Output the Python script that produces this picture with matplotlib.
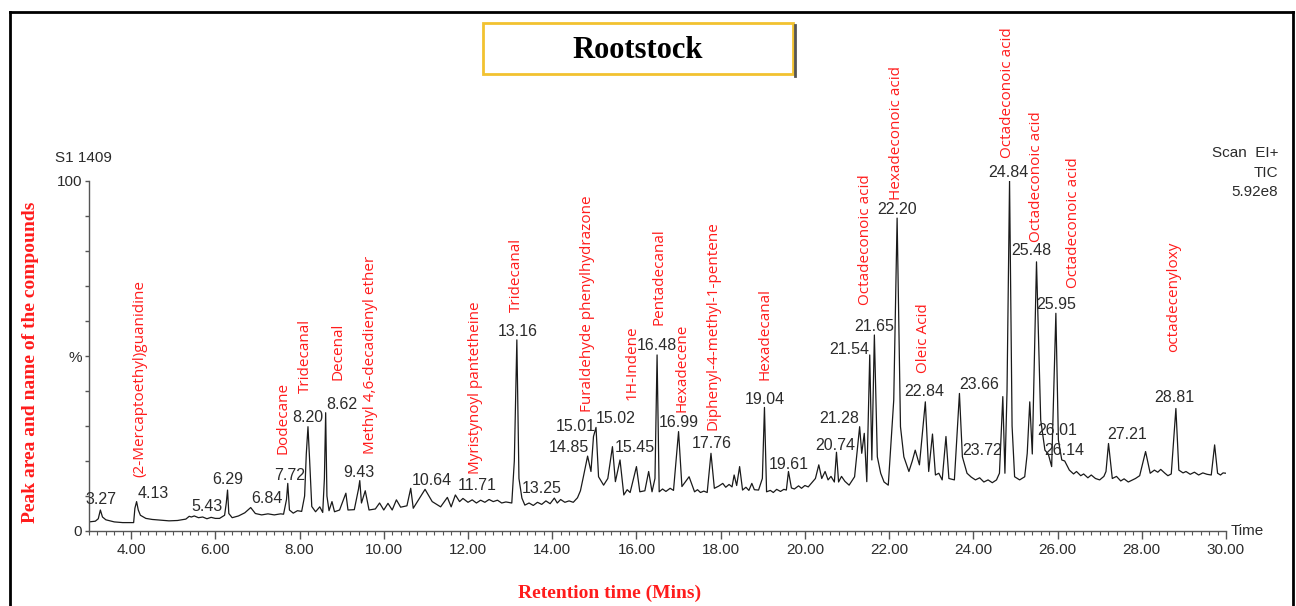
import matplotlib.pyplot as plt
from matplotlib.patches import Rectangle
from matplotlib.lines import Line2D
from matplotlib.ticker import MultipleLocator, FixedLocator, FixedFormatter

# ---- chromatogram trace: (retention time min, relative intensity %) ----
TRACE = [
    (3.00, 2.6), (3.15, 2.8), (3.22, 3.5), (3.27, 6.0), (3.32, 4.0), (3.40, 3.2),
    (3.60, 2.6), (3.80, 2.4), (4.06, 2.4), (4.09, 6.5), (4.13, 8.4), (4.17, 6.0),
    (4.22, 4.5), (4.35, 3.6), (4.50, 3.3), (4.70, 3.1), (4.90, 2.9), (5.10, 3.0),
    (5.30, 3.4), (5.38, 4.2), (5.43, 4.0), (5.50, 4.3), (5.60, 3.8), (5.70, 4.0),
    (5.80, 3.5), (5.90, 3.9), (6.00, 3.6), (6.10, 3.6), (6.22, 4.5), (6.26, 8.0),
    (6.29, 11.7), (6.32, 5.0), (6.40, 3.8), (6.55, 4.3), (6.70, 5.2), (6.84, 6.7),
    (6.95, 5.0), (7.10, 4.6), (7.25, 4.9), (7.40, 4.6), (7.55, 4.9), (7.62, 4.8),
    (7.69, 9.0), (7.72, 13.6), (7.76, 6.0), (7.85, 5.1), (7.95, 5.8), (8.05, 5.6),
    (8.12, 10.0), (8.16, 22.0), (8.20, 29.8), (8.24, 20.0), (8.29, 7.0), (8.38, 5.5),
    (8.48, 6.9), (8.55, 5.3), (8.59, 15.0), (8.62, 33.8), (8.65, 10.0), (8.70, 5.8),
    (8.77, 8.4), (8.83, 5.5), (8.95, 6.0), (9.10, 10.8), (9.15, 6.0), (9.30, 6.1),
    (9.40, 12.0), (9.43, 14.4), (9.47, 8.0), (9.56, 11.5), (9.65, 6.0), (9.80, 6.3),
    (9.90, 8.0), (10.00, 6.0), (10.10, 7.9), (10.20, 6.0), (10.30, 8.9), (10.40, 6.8),
    (10.55, 7.2), (10.64, 12.2), (10.70, 6.5), (10.85, 9.4), (10.98, 11.9),
    (11.15, 8.4), (11.35, 6.9), (11.51, 9.6), (11.60, 6.9), (11.70, 10.3),
    (11.80, 8.4), (11.88, 9.3), (12.00, 8.2), (12.10, 8.9), (12.20, 8.0),
    (12.30, 8.8), (12.40, 8.2), (12.50, 9.0), (12.60, 8.4), (12.70, 8.8),
    (12.80, 8.0), (12.90, 8.3), (13.04, 8.0), (13.10, 20.0), (13.16, 54.6),
    (13.21, 15.0), (13.28, 9.4), (13.35, 7.4), (13.45, 8.0), (13.55, 7.3),
    (13.65, 8.2), (13.75, 7.6), (13.85, 8.6), (13.95, 7.8), (14.05, 9.4),
    (14.12, 8.0), (14.20, 9.0), (14.30, 8.2), (14.40, 8.6), (14.50, 8.2),
    (14.60, 9.5), (14.67, 11.5), (14.74, 15.5), (14.84, 21.4), (14.92, 17.0),
    (14.98, 27.0), (15.04, 29.6), (15.10, 15.5), (15.22, 13.1), (15.32, 15.0),
    (15.43, 24.1), (15.50, 14.1), (15.61, 20.3), (15.70, 10.3), (15.78, 11.8),
    (15.85, 11.0), (16.00, 18.4), (16.08, 11.2), (16.20, 11.5), (16.29, 17.0),
    (16.37, 11.2), (16.44, 15.0), (16.49, 50.3), (16.54, 11.2), (16.62, 12.0),
    (16.70, 11.3), (16.80, 12.2), (16.88, 11.6), (17.00, 28.4), (17.08, 12.7),
    (17.25, 15.5), (17.38, 11.2), (17.45, 11.8), (17.52, 11.0), (17.60, 11.4),
    (17.68, 11.0), (17.77, 22.2), (17.85, 12.2), (17.95, 12.8), (18.05, 13.6),
    (18.12, 12.5), (18.20, 13.3), (18.27, 12.6), (18.32, 16.0), (18.38, 13.0),
    (18.45, 18.4), (18.52, 11.7), (18.60, 12.5), (18.67, 11.6), (18.74, 13.6),
    (18.80, 11.8), (18.90, 11.7), (18.99, 15.0), (19.04, 35.3), (19.09, 11.2),
    (19.18, 11.6), (19.25, 11.0), (19.33, 11.9), (19.42, 11.3), (19.50, 11.9),
    (19.56, 11.7), (19.61, 17.0), (19.68, 12.3), (19.75, 12.0), (19.85, 12.9),
    (19.92, 12.2), (20.00, 13.0), (20.08, 12.6), (20.15, 13.6), (20.25, 15.0),
    (20.33, 18.9), (20.40, 15.0), (20.48, 17.0), (20.55, 14.6), (20.62, 15.6),
    (20.70, 14.0), (20.75, 22.5), (20.80, 14.0), (20.87, 15.6), (20.95, 14.2),
    (21.05, 13.1), (21.18, 15.5), (21.30, 29.8), (21.35, 22.2), (21.41, 27.9),
    (21.47, 14.1), (21.54, 50.3), (21.59, 20.3), (21.65, 56.0), (21.72, 21.2),
    (21.80, 16.5), (21.88, 14.0), (21.98, 13.1), (22.11, 37.4), (22.19, 89.4),
    (22.27, 29.8), (22.35, 21.2), (22.47, 17.0), (22.55, 20.0), (22.62, 23.1),
    (22.72, 18.9), (22.86, 36.9), (22.94, 17.0), (23.03, 27.7), (23.10, 16.0),
    (23.18, 16.5), (23.26, 14.6), (23.35, 27.0), (23.42, 15.0), (23.55, 14.6),
    (23.67, 39.3), (23.74, 21.2), (23.85, 16.5), (23.95, 15.4), (24.05, 14.6),
    (24.15, 15.2), (24.25, 14.0), (24.35, 14.6), (24.45, 13.8), (24.55, 14.6),
    (24.62, 16.5), (24.70, 38.4), (24.75, 16.5), (24.80, 40.0), (24.86, 100.0),
    (24.92, 30.0), (24.98, 15.5), (25.10, 14.6), (25.22, 15.5), (25.28, 22.2),
    (25.34, 36.9), (25.40, 22.0), (25.50, 76.9), (25.60, 31.7), (25.70, 23.1),
    (25.78, 22.0), (25.86, 18.4), (25.96, 62.2), (26.02, 26.0), (26.10, 20.3),
    (26.17, 20.0), (26.28, 17.4), (26.38, 16.3), (26.45, 17.0), (26.55, 15.8),
    (26.62, 16.3), (26.72, 15.2), (26.80, 16.0), (26.90, 15.0), (27.00, 14.6),
    (27.10, 15.6), (27.15, 17.0), (27.21, 25.0), (27.30, 15.0), (27.40, 15.6),
    (27.50, 14.3), (27.58, 14.9), (27.68, 14.0), (27.75, 14.4), (27.85, 15.0),
    (27.95, 15.8), (28.09, 22.7), (28.20, 16.5), (28.30, 17.4), (28.38, 16.8),
    (28.45, 17.6), (28.55, 16.5), (28.62, 15.8), (28.70, 16.3), (28.81, 35.0),
    (28.88, 17.4), (28.98, 16.6), (29.05, 17.0), (29.15, 16.2), (29.25, 16.8),
    (29.35, 16.0), (29.45, 16.6), (29.55, 16.2), (29.65, 16.0), (29.73, 24.6),
    (29.80, 16.5), (29.87, 16.0), (29.93, 16.6), (30.00, 16.5),
]

# ---- peak retention-time labels ----
PEAK_LABELS = [
    "3.27", "4.13", "5.43", "6.29", "6.84", "7.72", "8.20", "8.62", "9.43",
    "10.64", "11.71", "13.16", "13.25", "14.85", "15.01", "15.02", "15.45",
    "16.48", "16.99", "17.76", "19.04", "19.61", "20.74", "21.28", "21.54",
    "21.65", "22.20", "22.84", "23.66", "23.72", "24.84", "25.48", "25.95",
    "26.01", "26.14", "27.21", "28.81",
]
# where each label sits (data coords, text centre)
PEAK_LABEL_POS = [
    (3.28, 8.9), (4.53, 10.8), (5.80, 7.0), (6.30, 14.6), (7.22, 9.3),
    (7.76, 16.0), (8.19, 32.4), (9.00, 36.2), (9.42, 16.7), (11.13, 14.5),
    (12.21, 13.0), (13.19, 57.1), (13.76, 12.2), (14.39, 23.8), (14.55, 29.8),
    (15.51, 32.2), (15.95, 23.8), (16.49, 52.9), (17.00, 31.0), (17.78, 24.9),
    (19.04, 37.6), (19.61, 19.1), (20.72, 24.4), (20.82, 32.2), (21.06, 52.0),
    (21.65, 58.4), (22.19, 91.9), (22.84, 40.0), (24.15, 41.9), (24.21, 23.1),
    (24.84, 102.3), (25.38, 80.1), (25.96, 64.6), (26.00, 28.7), (26.16, 22.9),
    (27.66, 27.7), (28.77, 38.1),
]

# ---- compound names ----
COMPOUNDS = [
    "(2-Mercaptoethyl)guanidine", "Dodecane", "Tridecanal", "Decenal",
    "Methyl 4,6-decadienyl ether", "Myristynoyl pantetheine", "Tridecanal",
    "Furaldehyde phenylhydrazone", "1H-Indene", "Pentadecanal", "Hexadecene",
    "Diphenyl-4-methyl-1-pentene", "Hexadecanal", "Octadeconoic acid",
    "Hexadeconoic acid", "Oleic Acid", "Octadeconoic acid", "Octadeconoic acid",
    "Octadeconoic acid", "octadecenyloxy",
]
# bottom-centre anchor of each rotated name (data coords)
COMPOUND_POS = [
    (4.21, 15.4), (7.61, 22.0), (8.13, 39.4), (8.92, 43.1), (9.68, 22.0),
    (12.17, 16.3), (13.14, 62.6), (14.83, 34.0), (15.90, 37.4), (16.54, 58.9),
    (17.09, 34.0), (17.82, 28.9), (19.06, 43.1), (21.43, 64.6), (22.17, 94.6),
    (22.81, 45.1), (24.81, 106.6), (25.50, 82.6), (26.38, 69.4), (28.75, 51.1),
]

X_TICKS = [4, 6, 8, 10, 12, 14, 16, 18, 20, 22, 24, 26, 28, 30]

W, H = 1296, 606
RED = "#ff1c1c"
INK = "#2b2b2b"


def fx(px):
    return px / W


def fy(py):
    return 1 - py / H


fig = plt.figure(figsize=(W / 100, H / 100), dpi=100)

# axes placed so that 3.0 min -> 89 px, 30.0 min -> 1226 px, 0 -> 531 px, 100 -> 181 px
ax = fig.add_axes([fx(89), fy(531), fx(1226) - fx(89), (531 - 181) / H])
ax.set_xlim(3, 30)
ax.set_ylim(0, 100)

trace_t = [p[0] for p in TRACE]
trace_i = [p[1] for p in TRACE]
ax.plot(trace_t, trace_i, color="#1a1a1a", linewidth=0.9)

for s in ("top", "right"):
    ax.spines[s].set_visible(False)
for s in ("left", "bottom"):
    ax.spines[s].set_color("#555555")
    ax.spines[s].set_linewidth(1.0)

ax.xaxis.set_major_locator(FixedLocator(X_TICKS))
ax.xaxis.set_major_formatter(FixedFormatter([f"{v:.2f}" for v in X_TICKS]))
ax.xaxis.set_minor_locator(MultipleLocator(0.2))
ax.tick_params(axis="x", which="major", direction="out", length=6, width=1,
               color="#555555", labelsize=11, labelcolor=INK, pad=3)
ax.tick_params(axis="x", which="minor", direction="out", length=3, width=0.8,
               color="#555555")

ax.yaxis.set_major_locator(MultipleLocator(10))
ax.yaxis.set_major_formatter(
    plt.FuncFormatter(lambda v, p: {0: "0", 50: "%", 100: "100"}.get(int(round(v)), "")))
ax.tick_params(axis="y", which="major", direction="out", length=3, width=1,
               color="#555555", labelsize=11, labelcolor=INK, pad=2)

for lab in ax.get_xticklabels() + ax.get_yticklabels():
    lab.set_family("Liberation Sans")

# peak time labels
for txt, (tx, ty) in zip(PEAK_LABELS, PEAK_LABEL_POS):
    ax.text(tx, ty, txt, ha="center", va="center", fontsize=11.5,
            color=INK, family="Liberation Sans", clip_on=False)

# compound names
for name, (tx, ty) in zip(COMPOUNDS, COMPOUND_POS):
    ax.text(tx, ty, name, rotation=90, ha="center", va="bottom", fontsize=11,
            color=RED, family="Open Sans", clip_on=False)

ax.text(30.1, 0, "Time", ha="left", va="center", fontsize=11, color=INK,
        family="Liberation Sans", clip_on=False)

# header texts
fig.text(fx(55), fy(158), "S1 1409", ha="left", va="center", fontsize=11,
         color=INK, family="Liberation Sans")
fig.text(fx(1278), fy(153), "Scan  EI+", ha="right", va="center", fontsize=11,
         color=INK, family="Liberation Sans")
fig.text(fx(1278), fy(173), "TIC", ha="right", va="center", fontsize=11,
         color=INK, family="Liberation Sans")
fig.text(fx(1278), fy(192), "5.92e8", ha="right", va="center", fontsize=11,
         color=INK, family="Liberation Sans")

# axis titles
fig.text(fx(31), fy(362), "Peak area and name of the compounds", rotation=90,
         ha="center", va="center", fontsize=14, fontweight="bold", color=RED,
         family="Liberation Serif")
fig.text(fx(610), fy(593), "Retention time (Mins)", ha="center", va="center",
         fontsize=14, fontweight="bold", color=RED, family="Liberation Serif")

# title box with a small shadow on the right
fig.add_artist(Line2D([fx(795), fx(795)], [fy(25), fy(76)], color="#555555",
                      linewidth=2, transform=fig.transFigure))
fig.add_artist(Rectangle((fx(483), fy(74)), fx(793) - fx(483), (74 - 23) / H,
                         transform=fig.transFigure, facecolor="white",
                         edgecolor="#f2c230", linewidth=2))
fig.text(fx(638), fy(50), "Rootstock", ha="center", va="center", fontsize=22,
         fontweight="bold", color="black", family="Liberation Serif")

# outer frame
for xs, ys in (([10, 1293], [12, 12]), ([10, 10], [12, 606]), ([1293, 1293], [12, 606])):
    fig.add_artist(Line2D([fx(v) for v in xs], [fy(v) for v in ys], color="black",
                          linewidth=2, transform=fig.transFigure))

fig.savefig("out.png", dpi=100)
